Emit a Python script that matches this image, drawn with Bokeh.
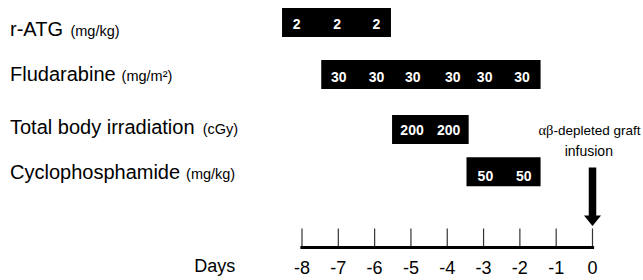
from bokeh.plotting import figure
from bokeh.models import Range1d, ColumnDataSource
from bokeh.core.properties import value
from bokeh.embed import file_html
from bokeh.resources import INLINE

# ---------------- data ----------------
drugs = ["r-ATG", "Fludarabine", "Total body irradiation", "Cyclophosphamide"]
units = ["(mg/kg)", "(mg/m\u00b2)", "(cGy)", "(mg/kg)"]
bar_start = [-8.55, -7.47, -5.52, -3.47]
bar_end = [-5.55, -1.43, -3.41, -1.43]

atg_days = [-8.15, -7.03, -5.95]
atg_doses = ["2", "2", "2"]
flu_days = [-6.99, -5.95, -4.95, -3.85, -2.97, -1.94]
flu_doses = ["30", "30", "30", "30", "30", "30"]
tbi_days = [-4.97, -3.96]
tbi_doses = ["200", "200"]
cy_days = [-2.95, -1.89]
cy_doses = ["50", "50"]

days = [-8, -7, -6, -5, -4, -3, -2, -1, 0]
day_labels = ["-8", "-7", "-6", "-5", "-4", "-3", "-2", "-1", "0"]
axis_title = "Days"
infusion_day = 0
infusion_greek = "\u03b1\u03b2"
infusion_line1 = "-depleted graft"
infusion_line2 = "infusion"

# ---------------- layout (pixels / styles) ----------------
W, H = 643, 280
PX_PER_DAY = 36.3125
X0 = -8 - 301.5 / PX_PER_DAY        # day value at the left edge
X1 = X0 + W / PX_PER_DAY
ROW_Y = [22, 74, 129, 171.3]        # bar centres (y in page px)
BAR_H = 29
DOSE_Y = [23.3, 76.3, 129.5, 175.6]  # dose label centres
NAME_BASE = [36, 80.7, 134, 178.3]   # drug name baselines
AXIS_Y = 247
TICK_TOP = 228
TICK_LABEL_Y = 266.5
DAYS_Y = 265.5
DAYS_X = -10.4
NAME_FS = 20
UNIT_FS = 14.5
CAP = 0.358                          # half cap height / em
NAME_OFFSET = 9.5
ARROW_TOP, ARROW_HEAD, ARROW_TIP = 167, 215, 225.5
HEAD_HALF_PX = 8.5
INF_Y1, INF_Y2 = 129.8, 150.2
FONT = value("Liberation Sans")

# Arial / Liberation Sans advance widths (per 1000 em)
ADV = {' ': 278, '-': 333, 'A': 667, 'T': 611, 'G': 778, 'F': 611, 'C': 722,
       'r': 333, 'l': 222, 'u': 556, 'd': 556, 'a': 556, 'b': 556, 'i': 222,
       'n': 556, 'e': 556, 'o': 556, 't': 278, 'y': 500, 'p': 556, 'h': 556,
       's': 500, 'm': 833, 'c': 500}


def text_width(s, fs):
    return sum(ADV.get(ch, 556) for ch in s) * fs / 1000.0


p = figure(width=W, height=H, output_backend="svg", toolbar_location=None,
           x_range=Range1d(X0, X1), y_range=Range1d(H, 0),
           min_border=0, outline_line_color=None,
           background_fill_color="white", border_fill_color="white")
p.axis.visible = False
p.grid.visible = False

# bars
bars = ColumnDataSource(dict(y=ROW_Y, left=bar_start, right=bar_end))
p.hbar(y="y", left="left", right="right", height=BAR_H, source=bars,
       fill_color="black", line_color=None)

# dose labels
dx, dy, dt = [], [], []
for row, (ds, vs) in enumerate([(atg_days, atg_doses), (flu_days, flu_doses),
                                (tbi_days, tbi_doses), (cy_days, cy_doses)]):
    dx += ds
    dt += vs
    dy += [DOSE_Y[row]] * len(ds)
p.text(x=dx, y=dy, text=dt, text_color="white", text_font=FONT,
       text_font_style="bold", text_font_size="14px", text_align="center",
       text_baseline="middle")

# drug names + units
name_src = ColumnDataSource(dict(
    x=[X0] * len(drugs),
    y=[b - CAP * NAME_FS for b in NAME_BASE],
    uy=[b - CAP * UNIT_FS for b in NAME_BASE],
    text=drugs,
    ux=[NAME_OFFSET + text_width(d, NAME_FS) + 6 for d in drugs], u=units))
p.text(x="x", y="y", text="text", source=name_src, x_offset=NAME_OFFSET,
       text_font=FONT, text_font_size=f"{NAME_FS}px", text_color="black",
       text_align="left", text_baseline="middle")
p.text(x="x", y="uy", text="u", source=name_src, x_offset="ux",
       text_font=FONT, text_font_size=f"{UNIT_FS}px", text_color="black",
       text_align="left", text_baseline="middle")

# timeline
p.segment(x0=days, y0=[TICK_TOP] * len(days), x1=days, y1=[AXIS_Y] * len(days),
          line_color="#333333", line_width=1.2)
p.segment(x0=[days[0]], y0=[AXIS_Y], x1=[days[-1]], y1=[AXIS_Y],
          line_color="black", line_width=3.2, line_cap="square")
p.text(x=days, y=[TICK_LABEL_Y] * len(days), text=day_labels, text_font=FONT,
       text_font_size="18px", text_color="black", text_align="center",
       text_baseline="middle")
p.text(x=[DAYS_X], y=[DAYS_Y], text=[axis_title], text_font=FONT,
       text_font_size="18px", text_color="black", text_align="center",
       text_baseline="middle")

# infusion arrow
p.segment(x0=[infusion_day], y0=[ARROW_TOP], x1=[infusion_day], y1=[ARROW_HEAD + 1],
          line_color="black", line_width=7.5)
hw = HEAD_HALF_PX / PX_PER_DAY
p.patch(x=[infusion_day - hw, infusion_day + hw, infusion_day],
        y=[ARROW_HEAD, ARROW_HEAD, ARROW_TIP], fill_color="black", line_color=None)

p.text(x=[infusion_day], y=[INF_Y1], text=[infusion_greek], x_offset=-39,
       text_font=value("Liberation Serif"), text_font_size="14.5px",
       text_color="black", text_align="right", text_baseline="middle")
p.text(x=[infusion_day], y=[INF_Y1], text=[infusion_line1], x_offset=-39,
       text_font=FONT, text_font_size="13.5px", text_color="black",
       text_align="left", text_baseline="middle")
p.text(x=[infusion_day], y=[INF_Y2], text=[infusion_line2], x_offset=-3.7,
       text_font=FONT, text_font_size="14px", text_color="black",
       text_align="center", text_baseline="middle")

open("out.html", "w").write(file_html(p, INLINE))
